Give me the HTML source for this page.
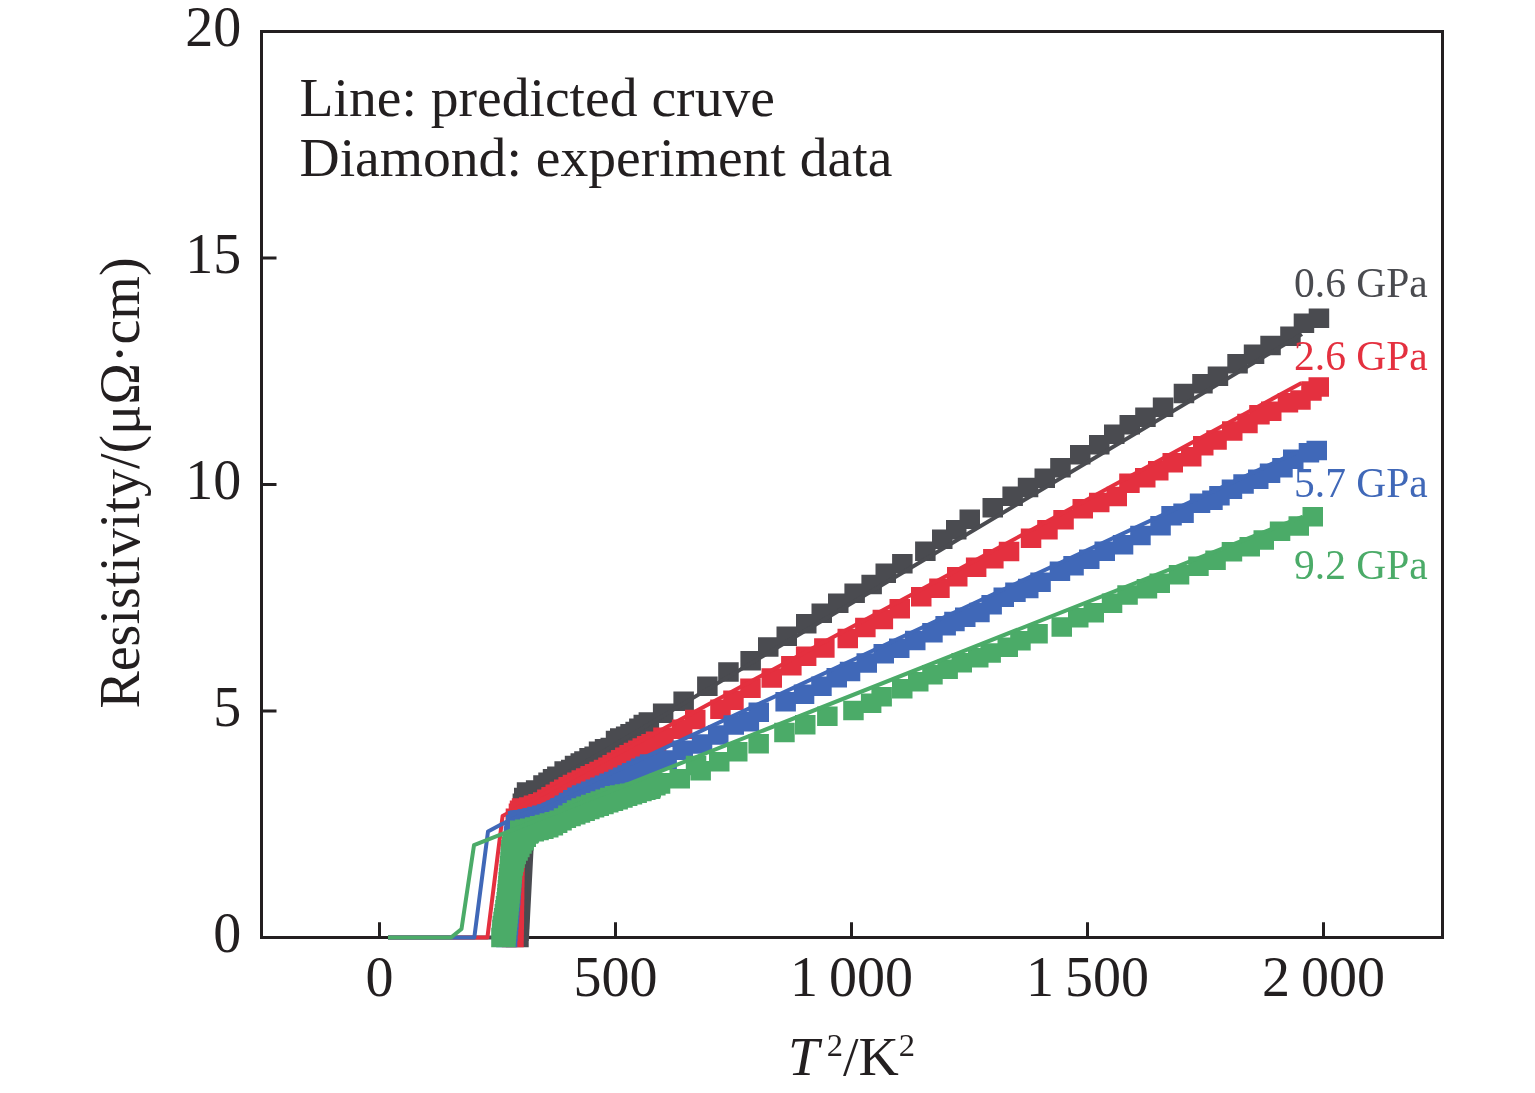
<!DOCTYPE html>
<html><head><meta charset="utf-8"><style>
html,body{margin:0;padding:0;background:#fff;}
svg{display:block;will-change:transform;}
</style></head><body>
<svg width="1535" height="1093" viewBox="0 0 1535 1093">
<rect width="1535" height="1093" fill="#fff"/>
<rect x="261.5" y="31.5" width="1181" height="906" fill="none" stroke="#231f20" stroke-width="3"/>
<path d="M379.5 937.5V922.3 M615.5 937.5V922.3 M851.5 937.5V922.3 M1087.5 937.5V922.3 M1323.5 937.5V922.3 M261.5 711.0H276.5 M261.5 484.5H276.5 M261.5 258.0H276.5" stroke="#231f20" stroke-width="3" fill="none"/>
<path d="M505.8 927.8h20.5v19.5h-20.5zM507.8 927.8h20.5v19.5h-20.5zM508.2 927.8h20.5v19.5h-20.5zM508.4 921.6h20.5v19.5h-20.5zM508.5 915.5h20.5v19.5h-20.5zM508.6 909.4h20.5v19.5h-20.5zM508.7 903.3h20.5v19.5h-20.5zM508.8 897.2h20.5v19.5h-20.5zM509.0 891.1h20.5v19.5h-20.5zM509.1 885.0h20.5v19.5h-20.5zM509.2 878.9h20.5v19.5h-20.5zM509.3 872.8h20.5v19.5h-20.5zM509.4 866.7h20.5v19.5h-20.5zM509.5 860.6h20.5v19.5h-20.5zM509.7 854.5h20.5v19.5h-20.5zM509.8 848.4h20.5v19.5h-20.5zM510.1 842.3h20.5v19.5h-20.5zM510.5 836.2h20.5v19.5h-20.5zM510.8 830.1h20.5v19.5h-20.5zM511.1 824.0h20.5v19.5h-20.5zM511.4 817.9h20.5v19.5h-20.5zM511.7 811.8h20.5v19.5h-20.5zM512.0 805.7h20.5v19.5h-20.5zM512.3 799.6h20.5v19.5h-20.5zM512.6 793.5h20.5v19.5h-20.5zM514.0 787.7h20.5v19.5h-20.5zM516.8 782.2h20.5v19.5h-20.5zM525.9 780.3h20.5v19.5h-20.5zM533.2 775.2h20.5v19.5h-20.5zM538.3 772.5h20.5v19.5h-20.5zM542.8 768.9h20.5v19.5h-20.5zM547.1 766.4h20.5v19.5h-20.5zM554.4 761.3h20.5v19.5h-20.5zM561.0 759.8h20.5v19.5h-20.5zM564.8 755.8h20.5v19.5h-20.5zM570.5 753.2h20.5v19.5h-20.5zM574.2 751.3h20.5v19.5h-20.5zM579.3 748.1h20.5v19.5h-20.5zM584.4 746.6h20.5v19.5h-20.5zM588.8 741.5h20.5v19.5h-20.5zM594.8 739.0h20.5v19.5h-20.5zM600.5 737.8h20.5v19.5h-20.5zM605.8 730.8h20.5v19.5h-20.5zM610.0 728.3h20.5v19.5h-20.5zM615.9 726.6h20.5v19.5h-20.5zM620.3 723.9h20.5v19.5h-20.5zM625.4 721.8h20.5v19.5h-20.5zM629.1 718.4h20.5v19.5h-20.5zM633.5 714.8h20.5v19.5h-20.5zM638.6 712.2h20.5v19.5h-20.5zM525.9 787.5h20.5v19.5h-20.5zM538.3 779.8h20.5v19.5h-20.5zM547.1 773.6h20.5v19.5h-20.5zM561.0 767.0h20.5v19.5h-20.5zM570.5 760.5h20.5v19.5h-20.5zM579.3 755.4h20.5v19.5h-20.5zM588.8 748.8h20.5v19.5h-20.5zM600.5 745.0h20.5v19.5h-20.5zM610.0 735.5h20.5v19.5h-20.5zM620.3 731.1h20.5v19.5h-20.5zM629.1 725.6h20.5v19.5h-20.5zM638.6 719.5h20.5v19.5h-20.5zM652.9 703.6h20.5v19.5h-20.5zM673.4 691.4h20.5v19.5h-20.5zM697.1 676.4h20.5v19.5h-20.5zM718.2 662.2h20.5v19.5h-20.5zM740.4 651.0h20.5v19.5h-20.5zM758.0 637.2h20.5v19.5h-20.5zM776.5 626.5h20.5v19.5h-20.5zM796.0 614.1h20.5v19.5h-20.5zM811.5 603.5h20.5v19.5h-20.5zM828.0 593.6h20.5v19.5h-20.5zM844.4 583.5h20.5v19.5h-20.5zM861.4 574.8h20.5v19.5h-20.5zM875.5 563.5h20.5v19.5h-20.5zM892.1 554.1h20.5v19.5h-20.5zM915.1 541.5h20.5v19.5h-20.5zM932.0 529.4h20.5v19.5h-20.5zM946.0 520.0h20.5v19.5h-20.5zM959.5 509.6h20.5v19.5h-20.5zM982.5 498.1h20.5v19.5h-20.5zM1002.4 486.6h20.5v19.5h-20.5zM1017.8 477.8h20.5v19.5h-20.5zM1034.5 468.4h20.5v19.5h-20.5zM1050.2 458.1h20.5v19.5h-20.5zM1070.0 444.9h20.5v19.5h-20.5zM1089.0 434.9h20.5v19.5h-20.5zM1104.0 424.6h20.5v19.5h-20.5zM1119.5 415.1h20.5v19.5h-20.5zM1135.2 407.6h20.5v19.5h-20.5zM1152.8 397.6h20.5v19.5h-20.5zM1173.7 383.8h20.5v19.5h-20.5zM1192.2 373.9h20.5v19.5h-20.5zM1207.7 366.4h20.5v19.5h-20.5zM1227.3 354.1h20.5v19.5h-20.5zM1243.8 344.6h20.5v19.5h-20.5zM1260.3 335.8h20.5v19.5h-20.5zM1280.2 326.4h20.5v19.5h-20.5zM1293.7 313.4h20.5v19.5h-20.5zM1308.7 308.6h20.5v19.5h-20.5z" fill="#4a4b50"/>
<path d="M388.0 937.5 L527.0 937.5 L534.5 792.6 L1302.0 334.1" fill="none" stroke="#4a4b50" stroke-width="4" stroke-linejoin="round"/>
<path d="M501.8 927.8h20.5v19.5h-20.5zM503.2 927.8h20.5v19.5h-20.5zM503.3 921.8h20.5v19.5h-20.5zM503.4 915.8h20.5v19.5h-20.5zM503.5 909.9h20.5v19.5h-20.5zM503.6 903.9h20.5v19.5h-20.5zM503.6 897.9h20.5v19.5h-20.5zM503.7 892.0h20.5v19.5h-20.5zM503.8 886.0h20.5v19.5h-20.5zM503.9 880.0h20.5v19.5h-20.5zM503.9 874.1h20.5v19.5h-20.5zM504.0 868.1h20.5v19.5h-20.5zM504.1 862.2h20.5v19.5h-20.5zM504.2 856.2h20.5v19.5h-20.5zM504.3 850.2h20.5v19.5h-20.5zM504.5 844.3h20.5v19.5h-20.5zM504.7 838.3h20.5v19.5h-20.5zM504.9 832.4h20.5v19.5h-20.5zM505.1 826.4h20.5v19.5h-20.5zM505.3 820.4h20.5v19.5h-20.5zM505.5 814.5h20.5v19.5h-20.5zM505.7 808.5h20.5v19.5h-20.5zM508.7 803.4h20.5v19.5h-20.5zM511.8 798.2h20.5v19.5h-20.5zM509.8 800.5h20.5v19.5h-20.5zM514.4 798.8h20.5v19.5h-20.5zM519.0 797.2h20.5v19.5h-20.5zM523.7 795.5h20.5v19.5h-20.5zM528.3 793.9h20.5v19.5h-20.5zM533.0 792.2h20.5v19.5h-20.5zM537.1 789.6h20.5v19.5h-20.5zM541.3 787.0h20.5v19.5h-20.5zM545.5 784.4h20.5v19.5h-20.5zM549.7 781.8h20.5v19.5h-20.5zM554.0 779.4h20.5v19.5h-20.5zM558.4 777.1h20.5v19.5h-20.5zM562.7 774.8h20.5v19.5h-20.5zM567.1 772.4h20.5v19.5h-20.5zM571.5 770.3h20.5v19.5h-20.5zM575.9 768.2h20.5v19.5h-20.5zM580.4 766.1h20.5v19.5h-20.5zM584.8 764.0h20.5v19.5h-20.5zM589.3 761.8h20.5v19.5h-20.5zM593.8 759.7h20.5v19.5h-20.5zM598.2 757.6h20.5v19.5h-20.5zM602.4 755.1h20.5v19.5h-20.5zM606.7 752.5h20.5v19.5h-20.5zM610.9 750.0h20.5v19.5h-20.5zM615.1 747.5h20.5v19.5h-20.5zM619.4 745.0h20.5v19.5h-20.5zM623.7 742.7h20.5v19.5h-20.5zM628.1 740.5h20.5v19.5h-20.5zM632.5 738.3h20.5v19.5h-20.5zM636.9 736.1h20.5v19.5h-20.5zM641.3 733.9h20.5v19.5h-20.5zM645.8 731.6h20.5v19.5h-20.5zM509.8 807.0h20.5v19.5h-20.5zM517.3 804.3h20.5v19.5h-20.5zM524.9 801.6h20.5v19.5h-20.5zM532.5 798.9h20.5v19.5h-20.5zM539.4 794.7h20.5v19.5h-20.5zM546.2 790.5h20.5v19.5h-20.5zM553.1 786.4h20.5v19.5h-20.5zM560.2 782.6h20.5v19.5h-20.5zM567.3 778.8h20.5v19.5h-20.5zM574.5 775.3h20.5v19.5h-20.5zM581.8 771.9h20.5v19.5h-20.5zM589.1 768.5h20.5v19.5h-20.5zM596.3 765.0h20.5v19.5h-20.5zM603.3 761.0h20.5v19.5h-20.5zM610.2 756.9h20.5v19.5h-20.5zM617.1 752.8h20.5v19.5h-20.5zM624.2 749.0h20.5v19.5h-20.5zM631.4 745.4h20.5v19.5h-20.5zM638.6 741.8h20.5v19.5h-20.5zM645.8 738.1h20.5v19.5h-20.5zM653.2 727.5h20.5v19.5h-20.5zM671.9 719.4h20.5v19.5h-20.5zM685.0 709.8h20.5v19.5h-20.5zM710.2 699.4h20.5v19.5h-20.5zM723.2 690.5h20.5v19.5h-20.5zM740.2 678.5h20.5v19.5h-20.5zM761.5 668.2h20.5v19.5h-20.5zM781.1 655.9h20.5v19.5h-20.5zM795.9 646.4h20.5v19.5h-20.5zM814.1 638.2h20.5v19.5h-20.5zM837.5 628.8h20.5v19.5h-20.5zM855.1 617.8h20.5v19.5h-20.5zM872.6 609.8h20.5v19.5h-20.5zM889.5 598.9h20.5v19.5h-20.5zM911.0 587.0h20.5v19.5h-20.5zM929.2 578.4h20.5v19.5h-20.5zM947.0 567.0h20.5v19.5h-20.5zM965.9 557.4h20.5v19.5h-20.5zM983.1 549.0h20.5v19.5h-20.5zM998.8 541.8h20.5v19.5h-20.5zM1020.8 528.5h20.5v19.5h-20.5zM1037.2 520.0h20.5v19.5h-20.5zM1053.3 510.1h20.5v19.5h-20.5zM1072.5 499.1h20.5v19.5h-20.5zM1089.0 492.8h20.5v19.5h-20.5zM1106.5 486.8h20.5v19.5h-20.5zM1119.2 473.6h20.5v19.5h-20.5zM1135.0 468.1h20.5v19.5h-20.5zM1148.0 461.1h20.5v19.5h-20.5zM1162.5 453.1h20.5v19.5h-20.5zM1181.0 446.9h20.5v19.5h-20.5zM1193.0 436.1h20.5v19.5h-20.5zM1206.3 430.2h20.5v19.5h-20.5zM1222.0 421.2h20.5v19.5h-20.5zM1237.2 413.8h20.5v19.5h-20.5zM1249.2 405.1h20.5v19.5h-20.5zM1261.0 401.6h20.5v19.5h-20.5zM1277.7 392.9h20.5v19.5h-20.5zM1290.2 390.2h20.5v19.5h-20.5zM1301.2 381.2h20.5v19.5h-20.5zM1308.5 377.2h20.5v19.5h-20.5z" fill="#e4303f"/>
<path d="M388.0 937.5 L487.4 937.5 L502.6 816.0 L710.0 703.5 L911.0 595.0 L1040.0 525.3 L1301.5 383.0" fill="none" stroke="#e4303f" stroke-width="4" stroke-linejoin="round"/>
<path d="M496.2 927.8h20.5v19.5h-20.5zM496.8 927.8h20.5v19.5h-20.5zM497.2 921.8h20.5v19.5h-20.5zM497.7 915.8h20.5v19.5h-20.5zM498.2 909.9h20.5v19.5h-20.5zM498.7 903.9h20.5v19.5h-20.5zM499.1 897.9h20.5v19.5h-20.5zM499.6 892.0h20.5v19.5h-20.5zM500.0 886.0h20.5v19.5h-20.5zM500.4 880.0h20.5v19.5h-20.5zM500.8 874.1h20.5v19.5h-20.5zM501.1 868.1h20.5v19.5h-20.5zM501.5 862.1h20.5v19.5h-20.5zM501.9 856.2h20.5v19.5h-20.5zM502.3 850.2h20.5v19.5h-20.5zM502.6 844.2h20.5v19.5h-20.5zM502.8 838.3h20.5v19.5h-20.5zM503.1 832.3h20.5v19.5h-20.5zM503.7 826.3h20.5v19.5h-20.5zM504.3 820.4h20.5v19.5h-20.5zM505.9 814.8h20.5v19.5h-20.5zM509.8 810.2h20.5v19.5h-20.5zM507.8 811.0h20.5v19.5h-20.5zM512.6 810.1h20.5v19.5h-20.5zM517.5 809.0h20.5v19.5h-20.5zM522.4 807.9h20.5v19.5h-20.5zM527.2 806.7h20.5v19.5h-20.5zM532.0 805.5h20.5v19.5h-20.5zM536.9 804.3h20.5v19.5h-20.5zM541.6 802.7h20.5v19.5h-20.5zM546.0 800.4h20.5v19.5h-20.5zM550.4 798.1h20.5v19.5h-20.5zM554.6 795.4h20.5v19.5h-20.5zM558.8 792.7h20.5v19.5h-20.5zM563.0 790.1h20.5v19.5h-20.5zM567.3 787.4h20.5v19.5h-20.5zM571.8 785.3h20.5v19.5h-20.5zM576.3 783.4h20.5v19.5h-20.5zM580.9 781.4h20.5v19.5h-20.5zM585.5 779.5h20.5v19.5h-20.5zM590.1 777.5h20.5v19.5h-20.5zM594.7 775.6h20.5v19.5h-20.5zM599.3 773.6h20.5v19.5h-20.5zM603.9 771.7h20.5v19.5h-20.5zM608.4 769.6h20.5v19.5h-20.5zM612.9 767.4h20.5v19.5h-20.5zM617.4 765.2h20.5v19.5h-20.5zM621.8 763.0h20.5v19.5h-20.5zM626.3 760.8h20.5v19.5h-20.5zM630.8 758.6h20.5v19.5h-20.5zM635.3 756.4h20.5v19.5h-20.5zM639.8 754.2h20.5v19.5h-20.5zM507.8 818.0h20.5v19.5h-20.5zM515.6 816.5h20.5v19.5h-20.5zM523.4 814.6h20.5v19.5h-20.5zM531.2 812.7h20.5v19.5h-20.5zM539.0 810.8h20.5v19.5h-20.5zM546.2 807.3h20.5v19.5h-20.5zM553.2 803.3h20.5v19.5h-20.5zM560.0 799.0h20.5v19.5h-20.5zM566.8 794.7h20.5v19.5h-20.5zM574.1 791.3h20.5v19.5h-20.5zM581.4 788.2h20.5v19.5h-20.5zM588.8 785.1h20.5v19.5h-20.5zM596.2 781.9h20.5v19.5h-20.5zM603.6 778.8h20.5v19.5h-20.5zM610.9 775.4h20.5v19.5h-20.5zM618.1 771.9h20.5v19.5h-20.5zM625.3 768.3h20.5v19.5h-20.5zM632.5 764.8h20.5v19.5h-20.5zM639.8 761.2h20.5v19.5h-20.5zM656.4 750.2h20.5v19.5h-20.5zM672.5 740.5h20.5v19.5h-20.5zM691.8 734.2h20.5v19.5h-20.5zM708.0 725.2h20.5v19.5h-20.5zM723.5 715.2h20.5v19.5h-20.5zM738.6 712.0h20.5v19.5h-20.5zM748.5 702.6h20.5v19.5h-20.5zM775.4 692.0h20.5v19.5h-20.5zM793.8 684.5h20.5v19.5h-20.5zM811.2 676.4h20.5v19.5h-20.5zM826.5 668.0h20.5v19.5h-20.5zM839.8 661.8h20.5v19.5h-20.5zM856.5 653.2h20.5v19.5h-20.5zM873.5 644.1h20.5v19.5h-20.5zM889.0 638.5h20.5v19.5h-20.5zM905.0 630.8h20.5v19.5h-20.5zM922.2 623.0h20.5v19.5h-20.5zM935.4 615.9h20.5v19.5h-20.5zM944.2 611.8h20.5v19.5h-20.5zM955.0 607.5h20.5v19.5h-20.5zM969.2 602.8h20.5v19.5h-20.5zM981.4 595.0h20.5v19.5h-20.5zM993.5 587.4h20.5v19.5h-20.5zM1005.2 582.5h20.5v19.5h-20.5zM1018.0 578.8h20.5v19.5h-20.5zM1030.3 572.5h20.5v19.5h-20.5zM1049.7 561.5h20.5v19.5h-20.5zM1063.3 556.0h20.5v19.5h-20.5zM1079.0 549.5h20.5v19.5h-20.5zM1094.5 541.6h20.5v19.5h-20.5zM1112.8 534.9h20.5v19.5h-20.5zM1130.2 525.8h20.5v19.5h-20.5zM1150.3 516.0h20.5v19.5h-20.5zM1161.3 506.1h20.5v19.5h-20.5zM1173.3 503.5h20.5v19.5h-20.5zM1189.8 493.6h20.5v19.5h-20.5zM1202.2 490.6h20.5v19.5h-20.5zM1209.2 485.9h20.5v19.5h-20.5zM1221.7 479.6h20.5v19.5h-20.5zM1233.3 474.2h20.5v19.5h-20.5zM1248.0 469.6h20.5v19.5h-20.5zM1259.8 463.4h20.5v19.5h-20.5zM1272.2 457.9h20.5v19.5h-20.5zM1283.0 449.4h20.5v19.5h-20.5zM1298.7 443.1h20.5v19.5h-20.5zM1306.5 440.8h20.5v19.5h-20.5z" fill="#4068b8"/>
<path d="M388.0 937.5 L474.3 937.5 L488.0 831.5 L502.0 824.1 L1298.0 451.6" fill="none" stroke="#4068b8" stroke-width="4" stroke-linejoin="round"/>
<path d="M491.2 927.8h20.5v19.5h-20.5zM493.2 927.8h20.5v19.5h-20.5zM495.2 927.8h20.5v19.5h-20.5zM491.6 927.8h20.5v19.5h-20.5zM491.8 923.7h20.5v19.5h-20.5zM492.1 919.7h20.5v19.5h-20.5zM492.5 915.8h20.5v19.5h-20.5zM493.3 911.8h20.5v19.5h-20.5zM493.9 907.9h20.5v19.5h-20.5zM494.6 903.9h20.5v19.5h-20.5zM495.2 899.9h20.5v19.5h-20.5zM495.8 896.0h20.5v19.5h-20.5zM496.5 892.0h20.5v19.5h-20.5zM497.0 888.0h20.5v19.5h-20.5zM497.3 884.1h20.5v19.5h-20.5zM497.7 880.1h20.5v19.5h-20.5zM498.1 876.1h20.5v19.5h-20.5zM498.4 872.1h20.5v19.5h-20.5zM498.8 868.1h20.5v19.5h-20.5zM499.2 864.1h20.5v19.5h-20.5zM499.6 860.1h20.5v19.5h-20.5zM499.9 856.1h20.5v19.5h-20.5zM500.2 852.1h20.5v19.5h-20.5zM500.5 848.1h20.5v19.5h-20.5zM500.8 844.1h20.5v19.5h-20.5zM501.1 840.1h20.5v19.5h-20.5zM501.9 836.2h20.5v19.5h-20.5zM502.8 832.2h20.5v19.5h-20.5zM495.2 927.8h20.5v19.5h-20.5zM495.5 923.8h20.5v19.5h-20.5zM495.8 919.8h20.5v19.5h-20.5zM496.2 915.8h20.5v19.5h-20.5zM496.6 911.8h20.5v19.5h-20.5zM497.0 907.9h20.5v19.5h-20.5zM497.4 903.9h20.5v19.5h-20.5zM497.8 899.9h20.5v19.5h-20.5zM498.2 896.0h20.5v19.5h-20.5zM498.6 892.0h20.5v19.5h-20.5zM499.0 888.0h20.5v19.5h-20.5zM499.4 884.1h20.5v19.5h-20.5zM499.8 880.1h20.5v19.5h-20.5zM500.2 876.1h20.5v19.5h-20.5zM500.6 872.2h20.5v19.5h-20.5zM501.0 868.2h20.5v19.5h-20.5zM501.4 864.2h20.5v19.5h-20.5zM501.8 860.2h20.5v19.5h-20.5zM502.6 856.3h20.5v19.5h-20.5zM503.4 852.4h20.5v19.5h-20.5zM504.3 848.5h20.5v19.5h-20.5zM505.5 844.8h20.5v19.5h-20.5zM507.3 841.2h20.5v19.5h-20.5zM509.1 837.7h20.5v19.5h-20.5zM511.2 834.3h20.5v19.5h-20.5zM513.3 830.9h20.5v19.5h-20.5zM515.5 827.6h20.5v19.5h-20.5zM517.8 824.2h20.5v19.5h-20.5zM510.0 820.5h20.5v19.5h-20.5zM515.0 819.5h20.5v19.5h-20.5zM520.0 818.4h20.5v19.5h-20.5zM524.9 817.3h20.5v19.5h-20.5zM529.8 816.0h20.5v19.5h-20.5zM534.7 814.7h20.5v19.5h-20.5zM539.6 813.3h20.5v19.5h-20.5zM544.5 811.9h20.5v19.5h-20.5zM549.4 810.5h20.5v19.5h-20.5zM553.8 808.2h20.5v19.5h-20.5zM558.1 805.5h20.5v19.5h-20.5zM562.5 802.9h20.5v19.5h-20.5zM566.8 800.3h20.5v19.5h-20.5zM571.4 798.2h20.5v19.5h-20.5zM576.2 796.5h20.5v19.5h-20.5zM581.0 794.8h20.5v19.5h-20.5zM585.8 793.0h20.5v19.5h-20.5zM590.5 791.3h20.5v19.5h-20.5zM595.3 789.6h20.5v19.5h-20.5zM600.1 787.8h20.5v19.5h-20.5zM604.8 786.1h20.5v19.5h-20.5zM609.8 785.2h20.5v19.5h-20.5zM614.8 784.3h20.5v19.5h-20.5zM619.8 783.4h20.5v19.5h-20.5zM624.8 782.4h20.5v19.5h-20.5zM629.8 781.5h20.5v19.5h-20.5zM634.8 780.6h20.5v19.5h-20.5zM639.8 779.6h20.5v19.5h-20.5zM513.8 824.5h20.5v19.5h-20.5zM518.6 823.2h20.5v19.5h-20.5zM523.5 821.9h20.5v19.5h-20.5zM528.3 820.7h20.5v19.5h-20.5zM533.1 819.4h20.5v19.5h-20.5zM538.0 818.0h20.5v19.5h-20.5zM542.6 816.1h20.5v19.5h-20.5zM546.9 813.6h20.5v19.5h-20.5zM551.3 811.1h20.5v19.5h-20.5zM555.6 808.6h20.5v19.5h-20.5zM560.3 806.7h20.5v19.5h-20.5zM565.0 805.0h20.5v19.5h-20.5zM569.7 803.3h20.5v19.5h-20.5zM574.4 801.5h20.5v19.5h-20.5zM579.1 799.8h20.5v19.5h-20.5zM583.8 798.1h20.5v19.5h-20.5zM588.5 796.4h20.5v19.5h-20.5zM593.2 794.7h20.5v19.5h-20.5zM598.0 793.1h20.5v19.5h-20.5zM602.7 791.5h20.5v19.5h-20.5zM607.4 789.9h20.5v19.5h-20.5zM612.2 788.3h20.5v19.5h-20.5zM616.9 786.6h20.5v19.5h-20.5zM621.7 785.0h20.5v19.5h-20.5zM626.4 783.4h20.5v19.5h-20.5zM631.2 781.8h20.5v19.5h-20.5zM635.8 779.9h20.5v19.5h-20.5zM640.5 778.0h20.5v19.5h-20.5zM645.1 776.1h20.5v19.5h-20.5zM649.8 774.2h20.5v19.5h-20.5zM649.8 773.0h20.5v19.5h-20.5zM669.5 769.1h20.5v19.5h-20.5zM685.8 755.8h20.5v19.5h-20.5zM690.4 761.0h20.5v19.5h-20.5zM709.0 752.1h20.5v19.5h-20.5zM727.0 742.0h20.5v19.5h-20.5zM748.4 734.0h20.5v19.5h-20.5zM774.2 722.8h20.5v19.5h-20.5zM795.0 715.0h20.5v19.5h-20.5zM817.1 706.4h20.5v19.5h-20.5zM843.2 700.8h20.5v19.5h-20.5zM860.9 693.5h20.5v19.5h-20.5zM871.4 687.1h20.5v19.5h-20.5zM892.0 679.0h20.5v19.5h-20.5zM908.0 672.0h20.5v19.5h-20.5zM922.2 664.9h20.5v19.5h-20.5zM937.4 659.6h20.5v19.5h-20.5zM951.5 653.0h20.5v19.5h-20.5zM968.0 648.0h20.5v19.5h-20.5zM980.4 643.2h20.5v19.5h-20.5zM997.5 637.6h20.5v19.5h-20.5zM1010.2 631.0h20.5v19.5h-20.5zM1027.3 623.9h20.5v19.5h-20.5zM1051.5 617.2h20.5v19.5h-20.5zM1068.0 608.0h20.5v19.5h-20.5zM1083.5 603.1h20.5v19.5h-20.5zM1101.8 593.5h20.5v19.5h-20.5zM1117.3 585.2h20.5v19.5h-20.5zM1136.7 578.9h20.5v19.5h-20.5zM1149.5 573.4h20.5v19.5h-20.5zM1168.8 565.1h20.5v19.5h-20.5zM1188.2 556.6h20.5v19.5h-20.5zM1205.3 550.5h20.5v19.5h-20.5zM1221.7 541.9h20.5v19.5h-20.5zM1239.5 537.1h20.5v19.5h-20.5zM1253.5 530.2h20.5v19.5h-20.5zM1269.8 521.6h20.5v19.5h-20.5zM1288.5 516.2h20.5v19.5h-20.5zM1302.5 507.1h20.5v19.5h-20.5z" fill="#4bab68"/>
<path d="M388.0 937.5 L451.0 937.5 L461.5 929.0 L474.0 845.2 L1303.0 516.5" fill="none" stroke="#4bab68" stroke-width="4" stroke-linejoin="round"/>
<text x="241.3" y="952.0" font-family="Liberation Serif, serif" font-size="56" text-anchor="end" fill="#231f20">0</text>
<text x="241.3" y="725.5" font-family="Liberation Serif, serif" font-size="56" text-anchor="end" fill="#231f20">5</text>
<text x="241.3" y="499.0" font-family="Liberation Serif, serif" font-size="56" text-anchor="end" fill="#231f20">10</text>
<text x="241.3" y="272.5" font-family="Liberation Serif, serif" font-size="56" text-anchor="end" fill="#231f20">15</text>
<text x="241.3" y="46.0" font-family="Liberation Serif, serif" font-size="56" text-anchor="end" fill="#231f20">20</text>
<text x="379.5" y="996" font-family="Liberation Serif, serif" font-size="56" text-anchor="middle" fill="#231f20">0</text>
<text x="615.5" y="996" font-family="Liberation Serif, serif" font-size="56" text-anchor="middle" fill="#231f20">500</text>
<text x="851.5" y="996" font-family="Liberation Serif, serif" font-size="56" text-anchor="middle" fill="#231f20">1&#8201;000</text>
<text x="1087.5" y="996" font-family="Liberation Serif, serif" font-size="56" text-anchor="middle" fill="#231f20">1&#8201;500</text>
<text x="1323.5" y="996" font-family="Liberation Serif, serif" font-size="56" text-anchor="middle" fill="#231f20">2&#8201;000</text>
<text x="299.5" y="116" font-family="Liberation Serif, serif" font-size="55.6" fill="#231f20">Line: predicted cruve</text>
<text x="299.5" y="176" font-family="Liberation Serif, serif" font-size="55.6" fill="#231f20">Diamond: experiment data</text>
<text transform="translate(139 708.6) rotate(-90)" font-family="Liberation Serif, serif" font-size="56" fill="#231f20">Resistivity/(μΩ·cm)</text>
<text x="788.1" y="1074.5" font-family="Liberation Serif, serif" font-size="55.8" font-style="italic" fill="#231f20">T</text>
<text x="826.8" y="1055.6" font-family="Liberation Serif, serif" font-size="32.5" fill="#231f20">2</text>
<text x="843.1" y="1074.5" font-family="Liberation Serif, serif" font-size="55.8" fill="#231f20">/K</text>
<text x="898.8" y="1055.6" font-family="Liberation Serif, serif" font-size="32.5" fill="#231f20">2</text>
<text x="1294" y="297" font-family="Liberation Serif, serif" font-size="41.5" fill="#4a4b50">0.6 GPa</text>
<text x="1294" y="369.5" font-family="Liberation Serif, serif" font-size="41.5" fill="#e4303f">2.6 GPa</text>
<text x="1294" y="497" font-family="Liberation Serif, serif" font-size="41.5" fill="#4068b8">5.7 GPa</text>
<text x="1294" y="579.3" font-family="Liberation Serif, serif" font-size="41.5" fill="#4bab68">9.2 GPa</text>
</svg>
</body></html>
